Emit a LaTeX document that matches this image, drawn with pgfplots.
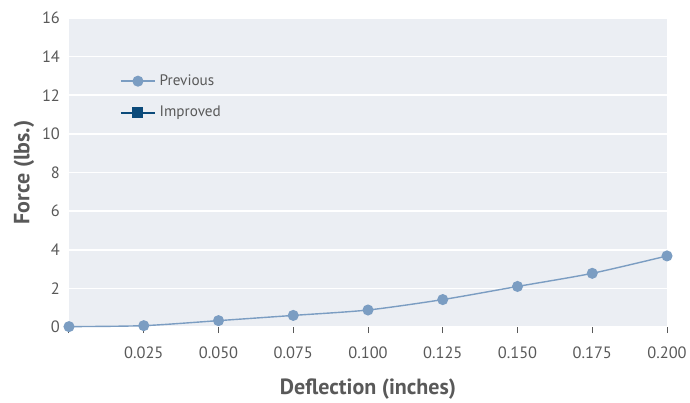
\documentclass[border=0pt]{standalone}
\usepackage{pgfplots}
\pgfplotsset{compat=1.18}
\usepackage{fontspec}
\setmainfont{PT Sans}
\definecolor{bgcol}{HTML}{EBEEF3}
\definecolor{prevcol}{HTML}{7B9DC2}
\definecolor{impcol}{HTML}{0B4A7A}
\definecolor{txtcol}{HTML}{595959}
\begin{document}
\begin{tikzpicture}
\begin{axis}[name=ax,
    scale only axis,
    width=299pt, height=154.5pt,
    xmin=0, xmax=0.2, ymin=0, ymax=16,
    axis line style={draw=none},
    axis background/.style={fill=bgcol},
    ytick={0,2,...,16},
    xtick={0,0.025,...,0.2},
    xticklabels={,0.025,0.050,0.075,0.100,0.125,0.150,0.175,0.200},
    ymajorgrids,
    major grid style={white, line width=0.8pt},
    tick label style={font=\fontsize{8.2}{9.5}\selectfont, text=txtcol},
    /pgf/number format/assume math mode=true,
    xtick pos=bottom, ytick pos=left,
    tick align=outside,
    xtick style={draw=txtcol, line width=0.5pt},
    ytick style={draw=none},
    major tick length=3pt,
    xticklabel style={yshift=-3.5pt},
    yticklabel style={xshift=2pt},
    xlabel={\textbf{Deflection (inches)}},
    ylabel={\textbf{Force (lbs.)}},
    label style={font=\fontsize{11}{13}\selectfont, text=txtcol},
    xlabel style={yshift=-3pt},
    ylabel style={yshift=-3pt},
    legend style={draw=none, fill=none, at={(0.075,0.845)}, anchor=north west,
        font=\fontsize{7.6}{9}\selectfont, text=txtcol, row sep=5pt,
        legend cell align=left},
    legend image code/.code={\draw[#1] (0pt,0pt) -- (17pt,0pt); \draw[#1, mark repeat=1] plot coordinates {(8.5pt,0pt)};},
]
\addplot[color=prevcol, line width=0.7pt, smooth, tension=0.45,
    mark=*, mark size=2.4pt, mark options={fill=prevcol, draw=prevcol}]
    coordinates {(0,0.02) (0.025,0.07) (0.05,0.33) (0.075,0.6) (0.1,0.88)
                 (0.125,1.42) (0.15,2.1) (0.175,2.78) (0.2,3.68)};
\addlegendentry{Previous}
\addlegendimage{color=impcol, line width=0.7pt, mark=square*, mark size=2.4pt,
    mark options={fill=impcol, draw=impcol}}
\addlegendentry{Improved}
\end{axis}
\pgfresetboundingbox
\path (ax.south west) ++(-34.5pt,-37.5pt) rectangle ++(345pt,201pt);
\end{tikzpicture}
\end{document}
